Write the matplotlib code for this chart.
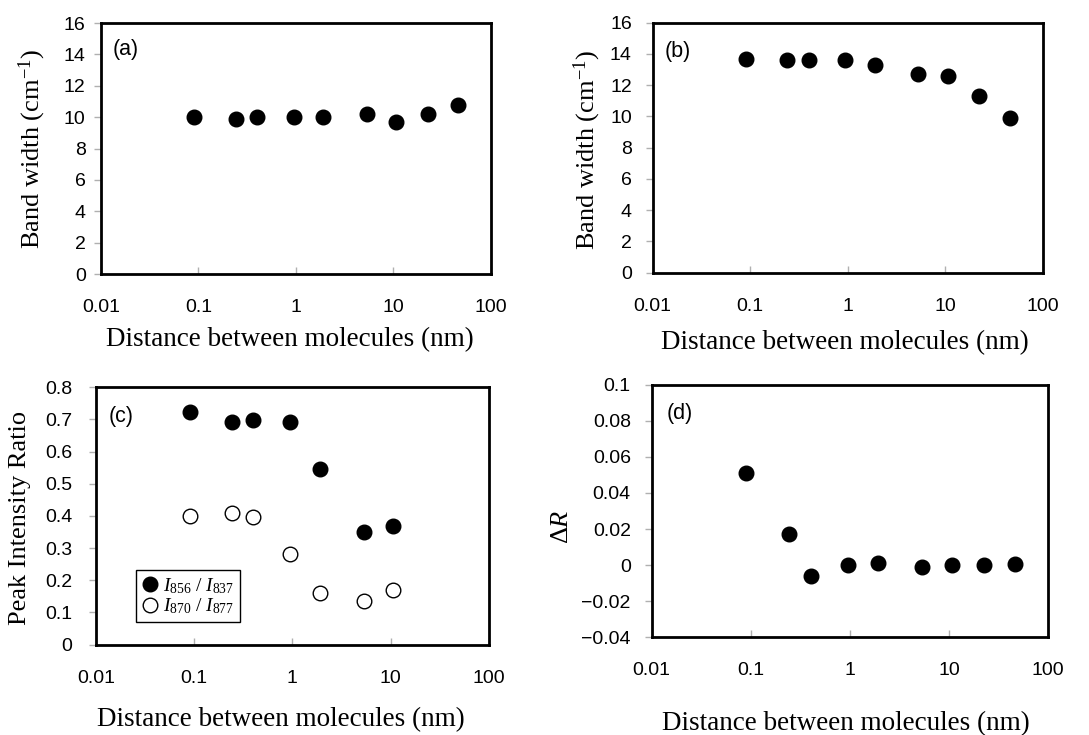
import matplotlib
matplotlib.use('Agg')
import matplotlib.pyplot as plt
from matplotlib.ticker import FixedLocator, NullLocator
from matplotlib.lines import Line2D

# distances between molecules (nm)
distance = [0.09, 0.24, 0.40, 0.95, 1.9, 5.3, 10.7, 22.5, 46.0]

# band widths (cm-1)
width_a = [10.0, 9.9, 10.0, 10.0, 10.0, 10.2, 9.7, 10.2, 10.8]
width_b = [13.7, 13.6, 13.6, 13.6, 13.3, 12.7, 12.6, 11.3, 9.9]

# peak intensity ratios (first seven distances)
ratio_856_837 = [0.723, 0.692, 0.697, 0.693, 0.547, 0.350, 0.370]
ratio_870_877 = [0.400, 0.410, 0.396, 0.283, 0.162, 0.137, 0.170]

# delta R
delta_r = [0.051, 0.017, -0.006, 0.0, 0.001, -0.001, 0.0, 0.0, 0.0005]

x_ticks = [0.01, 0.1, 1, 10, 100]
x_labels = ['0.01', '0.1', '1', '10', '100']

sans = 'Liberation Sans'
serif = 'Liberation Serif'
plt.rcParams['mathtext.fontset'] = 'custom'
plt.rcParams['mathtext.rm'] = serif
plt.rcParams['mathtext.it'] = serif + ':italic'

fig = plt.figure(figsize=(10.89, 7.35), dpi=100)
ax_a = fig.add_axes([0.0927, 0.6272, 0.3581, 0.3415])
ax_b = fig.add_axes([0.5993, 0.6290, 0.3581, 0.3401])
ax_c = fig.add_axes([0.0882, 0.1229, 0.3606, 0.3502])
ax_d = fig.add_axes([0.5984, 0.1329, 0.3642, 0.3437])


def style(ax, ylim, yticks, ylabels, ypad):
    ax.set_xscale('log')
    ax.set_xlim(0.01, 100)
    ax.set_ylim(*ylim)
    ax.xaxis.set_major_locator(FixedLocator(x_ticks))
    ax.xaxis.set_minor_locator(NullLocator())
    ax.set_xticklabels(x_labels)
    ax.set_yticks(yticks)
    ax.set_yticklabels(ylabels)
    ax.tick_params(axis='x', direction='in', length=5, width=1, color='#b0b0b0',
                   pad=18, labelsize=14)
    ax.tick_params(axis='y', direction='out', length=5, width=1, color='#b0b0b0',
                   pad=ypad, labelsize=14)
    for lab in ax.get_xticklabels() + ax.get_yticklabels():
        lab.set_fontfamily(sans)
    for sp in ax.spines.values():
        sp.set_linewidth(2.0)
        sp.set_color('black')


def set_labels(ax, xlab_pos, ylabel, ylab_pos):
    ax.set_xlabel('Distance between molecules (nm)', fontfamily=serif, fontsize=19.5)
    ax.xaxis.set_label_coords(*xlab_pos)
    ax.xaxis.label.set_va('center')
    ax.set_ylabel(ylabel, fontfamily=serif, fontsize=19)
    ax.yaxis.set_label_coords(*ylab_pos)
    ax.yaxis.label.set_va('center')


dot = dict(marker='o', linestyle='none', markersize=10.5, markerfacecolor='black',
           markeredgecolor='black', markeredgewidth=1, clip_on=False)
ring = dict(marker='o', linestyle='none', markersize=10.5, markerfacecolor='white',
            markeredgecolor='black', markeredgewidth=1, clip_on=False)

band_ticks = list(range(0, 17, 2))
band_labels = [str(v) for v in band_ticks]

# (a)
ax_a.plot(distance, width_a, **dot)
style(ax_a, (0, 16), band_ticks, band_labels, 6)
set_labels(ax_a, (0.484, -0.263), 'Band width (cm$^{-1}$)', (-0.177, 0.498))
ax_a.text(0.03, 0.896, '(a)', transform=ax_a.transAxes, fontfamily=sans,
          fontsize=15.5, va='center', ha='left')

# (b)
ax_b.plot(distance, width_b, **dot)
style(ax_b, (0, 16), band_ticks, band_labels, 10)
set_labels(ax_b, (0.494, -0.28), 'Band width (cm$^{-1}$)', (-0.167, 0.49))
ax_b.text(0.032, 0.884, '(b)', transform=ax_b.transAxes, fontfamily=sans,
          fontsize=15.5, va='center', ha='left')

# (c)
ratio_ticks = [i / 10 for i in range(0, 9)]
ratio_labels = ['0'] + ['%.1f' % v for v in ratio_ticks[1:]]
ax_c.plot(distance[:len(ratio_856_837)], ratio_856_837, **dot)
ax_c.plot(distance[:len(ratio_870_877)], ratio_870_877, **ring)
style(ax_c, (0, 0.8), ratio_ticks, ratio_labels, 12)
set_labels(ax_c, (0.471, -0.291), 'Peak Intensity Ratio', (-0.194, 0.494))
ax_c.text(0.031, 0.886, '(c)', transform=ax_c.transAxes, fontfamily=sans,
          fontsize=15.5, va='center', ha='left')
handles = [Line2D([], [], **dot), Line2D([], [], **ring)]
leg = ax_c.legend(handles, ['$I_{856}$ / $I_{837}$', '$I_{870}$ / $I_{877}$'],
                  loc='lower left', bbox_to_anchor=(0.102, 0.088), fancybox=False,
                  framealpha=1, edgecolor='black', prop={'family': serif, 'size': 14},
                  handlelength=0.8, handletextpad=0.3, borderpad=0.3,
                  labelspacing=0.05, borderaxespad=0)
leg.get_frame().set_linewidth(1.0)

# (d)
dr_ticks = [-0.04, -0.02, 0, 0.02, 0.04, 0.06, 0.08, 0.1]
dr_labels = ['\u22120.04', '\u22120.02', '0', '0.02', '0.04', '0.06', '0.08', '0.1']
ax_d.plot(distance, delta_r, **dot)
style(ax_d, (-0.04, 0.1), dr_ticks, dr_labels, 10)
set_labels(ax_d, (0.489, -0.34), r'$\Delta R$', (-0.227, 0.438))
ax_d.text(0.038, 0.887, '(d)', transform=ax_d.transAxes, fontfamily=sans,
          fontsize=15.5, va='center', ha='left')

fig.savefig('out.png', dpi=100)
